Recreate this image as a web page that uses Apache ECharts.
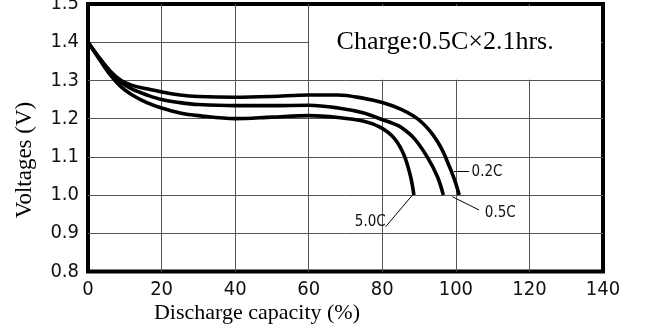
<!DOCTYPE html>
<html>
<head>
<meta charset="utf-8">
<script src="https://cdn.jsdelivr.net/npm/echarts@6/dist/echarts.min.js"></script>
<style>
html,body{margin:0;padding:0;background:#fff;}
#chart{width:646px;height:324px;}
</style>
</head>
<body>
<div id="chart"></div>
<script>
// ---- data ----
const rateNames = ['0.2C', '0.5C', '5.0C'];

const cap02  = [0, 3, 6, 9, 12, 16, 20, 25, 30, 40, 50, 60, 68, 75, 80, 85, 88.6, 91, 93.1, 95, 96.7, 98, 99, 100, 100.9];
const volt02 = [1.40, 1.36, 1.325, 1.300, 1.287, 1.278, 1.270, 1.262, 1.258, 1.256, 1.258, 1.262, 1.262, 1.253, 1.242, 1.225, 1.206, 1.188, 1.166, 1.14, 1.11, 1.08, 1.057, 1.03, 1.0];

const cap05  = [0, 3, 6, 9, 12, 16, 20, 25, 30, 40, 50, 60, 68, 75, 79.5, 83, 85, 88.6, 92.2, 95, 96.6];
const volt05 = [1.40, 1.36, 1.323, 1.295, 1.277, 1.262, 1.250, 1.242, 1.237, 1.234, 1.234, 1.235, 1.228, 1.215, 1.199, 1.187, 1.178, 1.149, 1.10, 1.048, 1.0];

const cap50  = [0, 3, 6, 9, 12, 16, 20, 25, 30, 40, 50, 60, 68, 75, 79.5, 83.2, 85.9, 87.7, 88.6];
const volt50 = [1.40, 1.357, 1.315, 1.283, 1.262, 1.242, 1.228, 1.215, 1.208, 1.200, 1.204, 1.208, 1.203, 1.193, 1.177, 1.149, 1.105, 1.048, 1.0];

const xTicks = [0, 20, 40, 60, 80, 100, 120, 140];
const yTicks = [0.8, 0.9, 1.0, 1.1, 1.2, 1.3, 1.4, 1.5];

// leader lines: [from, to] in data units, and label anchor
const leader02 = [[99.5, 1.062], [103.6, 1.062]];
const leader05 = [[99.0, 0.996], [106.3, 0.961]];
const leader50 = [[88.2, 1.0], [80.9, 0.917]];
const labelPos02 = [104.0, 1.060];
const labelPos05 = [107.6, 0.954];
const labelPos50 = [81.2, 0.930];

const noteText = 'Charge:0.5C\u00d72.1hrs.';
const noteBox = [[60.15, 1.3015], [139.45, 1.4948]];
const xName = 'Discharge capacity (%)';
const yName = 'Voltages (V)';

// ---- chart ----
const tickFont = '"Liberation Sans Narrow","DejaVu Sans Condensed","Arial Narrow",sans-serif';
const serif = '"Liberation Serif","Times New Roman",serif';

function pairs(xs, ys) { return xs.map((x, i) => [x, ys[i]]); }

function leaderMark(seg) {
  return {
    silent: true, symbol: 'none', animation: false,
    lineStyle: { color: '#000', width: 1, type: 'solid' },
    label: { show: false },
    data: [[{ coord: seg[0] }, { coord: seg[1] }]]
  };
}
function labelMark(pos, text, side) {
  return {
    silent: true, symbol: 'circle', symbolSize: 0, animation: false,
    itemStyle: { color: 'rgba(0,0,0,0)' },
    label: { show: true, position: side, distance: 1, formatter: text,
             fontFamily: tickFont, fontSize: 15, color: '#111' },
    data: [{ coord: pos }]
  };
}

const lineStyle = { color: '#000', width: 3.6 };

const chart = echarts.init(document.getElementById('chart'), null, { renderer: 'canvas' });
chart.setOption({
  animation: false,
  backgroundColor: '#fff',
  grid: { left: 88, right: 43, top: 4, bottom: 52.5, show: true,
          outerBoundsMode: 'none', containLabel: false,
          borderColor: '#000', borderWidth: 4, backgroundColor: 'transparent' },
  xAxis: {
    type: 'value', min: xTicks[0], max: xTicks[xTicks.length - 1], interval: 20,
    axisLine: { show: false }, axisTick: { show: false },
    splitLine: { show: true, showMinLine: false, showMaxLine: false, lineStyle: { color: '#555', width: 1 } },
    axisLabel: { fontFamily: tickFont, fontSize: 20, color: '#111', margin: 8,
                 formatter: v => String(v) }
  },
  yAxis: {
    type: 'value', min: yTicks[0], max: yTicks[yTicks.length - 1], interval: 0.1,
    axisLine: { show: false }, axisTick: { show: false },
    splitLine: { show: true, showMinLine: false, showMaxLine: false, lineStyle: { color: '#555', width: 1 } },
    axisLabel: { fontFamily: tickFont, fontSize: 20, color: '#111', margin: 9,
                 formatter: v => v.toFixed(1) }
  },
  series: [
    { name: rateNames[0], type: 'line', data: pairs(cap02, volt02), smooth: 0.35,
      showSymbol: false, lineStyle: lineStyle, z: 5,
      markLine: leaderMark(leader02), markPoint: labelMark(labelPos02, rateNames[0], 'right'),
      markArea: {
        silent: true,
        itemStyle: { color: '#fff' },
        label: { show: true, position: 'inside', formatter: noteText,
                 fontFamily: serif, fontSize: 26, color: '#000', offset: [-10, -1] },
        data: [[{ coord: noteBox[0] }, { coord: noteBox[1] }]]
      } },
    { name: rateNames[1], type: 'line', data: pairs(cap05, volt05), smooth: 0.35,
      showSymbol: false, lineStyle: lineStyle, z: 5,
      markLine: leaderMark(leader05), markPoint: labelMark(labelPos05, rateNames[1], 'right') },
    { name: rateNames[2], type: 'line', data: pairs(cap50, volt50), smooth: 0.35,
      showSymbol: false, lineStyle: lineStyle, z: 5,
      markLine: leaderMark(leader50), markPoint: labelMark(labelPos50, rateNames[2], 'left') }
  ],
  graphic: [
    { type: 'text', x: 257, y: 313, silent: true,
      style: { text: xName, font: '22px ' + serif, fill: '#000', align: 'center', verticalAlign: 'middle' } },
    { type: 'text', x: 25, y: 160, rotation: Math.PI / 2, silent: true,
      style: { text: yName, font: '23px ' + serif, fill: '#000', align: 'center', verticalAlign: 'middle' } }
  ]
});
</script>
</body>
</html>
